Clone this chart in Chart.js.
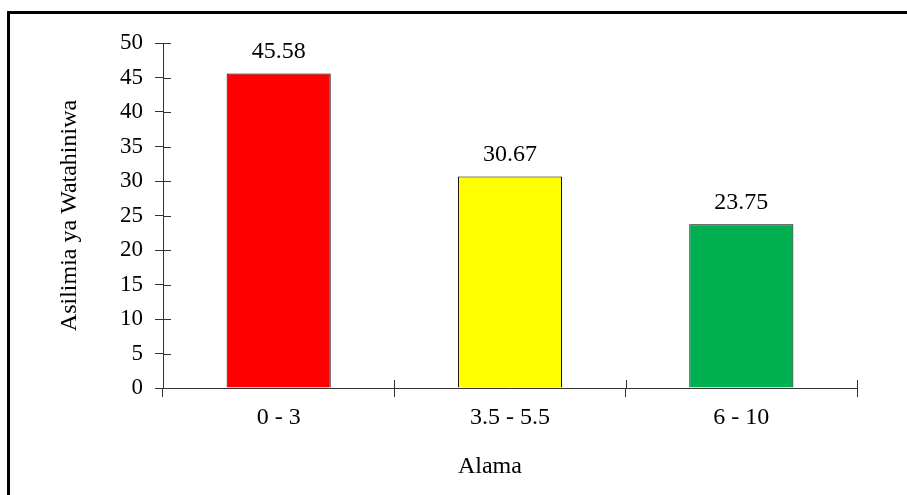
<!DOCTYPE html>
<html>
<head>
<meta charset="utf-8">
<script src="https://cdn.jsdelivr.net/npm/chart.js@4/dist/chart.umd.min.js"></script>
<style>
  html, body { margin: 0; padding: 0; background: #fff; }
  #wrap { position: relative; width: 907px; height: 495px; overflow: hidden; }
  #frame {
    position: absolute; left: 7px; top: 11px; width: 920px; height: 500px;
    border-left: 3px solid #000; border-top: 3px solid #000; pointer-events: none;
  }
  canvas { position: absolute; left: 0; top: 0; }
</style>
</head>
<body>
<div id="wrap">
  <canvas id="chart" width="907" height="495"></canvas>
  <div id="frame"></div>
</div>
<script>
// ====== DATA ======
const categories = ['0 - 3', '3.5 - 5.5', '6 - 10'];
const percentages = [45.58, 30.67, 23.75];
const barColors = ['#FF0000', '#FFFF00', '#00B050'];
const yTitle = 'Asilimia ya Watahiniwa';
const xTitle = 'Alama';

const FONT = 'Liberation Serif, Times New Roman, serif';
const AXIS_COLOR = '#333333';

// ticks crossing the axis lines (Chart.js only draws the outer half)
const innerTicks = {
  id: 'innerTicks',
  afterDraw(chart) {
    const { ctx, scales: { x, y } } = chart;
    ctx.save();
    ctx.strokeStyle = AXIS_COLOR;
    ctx.lineWidth = 1;
    ctx.beginPath();
    y.ticks.forEach((t, i) => {
      const py = Math.round(y.getPixelForTick(i)) + 0.5;
      ctx.moveTo(x.left, py);
      ctx.lineTo(x.left + 8, py);
    });
    for (let i = 1; i <= categories.length; i++) {
      const px = Math.round(x.getPixelForValue(i - 0.5)) + 0.5;
      ctx.moveTo(px, y.bottom);
      ctx.lineTo(px, y.bottom - 8);
    }
    ctx.stroke();

    // x title sits a little left of the plot centre in the original
    ctx.fillStyle = '#000';
    ctx.font = '24px ' + FONT;
    ctx.textAlign = 'center';
    ctx.textBaseline = 'middle';
    ctx.fillText(xTitle, x.left + (x.right - x.left) * 0.471, x.bottom - 28);
    ctx.restore();
  }
};

// value labels above each bar
const valueLabels = {
  id: 'valueLabels',
  afterDatasetsDraw(chart) {
    const { ctx } = chart;
    const meta = chart.getDatasetMeta(0);
    ctx.save();
    ctx.fillStyle = '#000';
    ctx.font = '24px ' + FONT;
    ctx.textAlign = 'center';
    ctx.textBaseline = 'alphabetic';
    meta.data.forEach((bar, i) => {
      ctx.fillText(percentages[i].toFixed(2), bar.x, bar.y - 15);
    });
    ctx.restore();
  }
};

new Chart(document.getElementById('chart'), {
  type: 'bar',
  data: {
    labels: categories,
    datasets: [{
      data: percentages,
      backgroundColor: barColors,
      borderColor: '#000',
      borderWidth: 1,
      barPercentage: 0.45,
      categoryPercentage: 1
    }]
  },
  options: {
    responsive: false,
    animation: false,
    devicePixelRatio: 1,
    layout: { padding: { left: 0, top: 43, right: 50, bottom: 0 } },
    plugins: {
      legend: { display: false },
      tooltip: { enabled: false }
    },
    scales: {
      x: {
        afterFit(scale) { scale.height = 107; },
        grid: {
          display: true,
          drawOnChartArea: false,
          drawTicks: true,
          tickLength: 9,
          color: AXIS_COLOR,
          offset: true
        },
        border: { display: true, color: AXIS_COLOR, width: 1 },
        ticks: {
          color: '#000',
          padding: 6,
          font: { family: FONT, size: 24 }
        },
        title: { display: false, text: xTitle }
      },
      y: {
        min: 0,
        max: 50,
        afterFit(scale) { scale.width = 163; },
        grid: {
          display: true,
          drawOnChartArea: false,
          drawTicks: true,
          tickLength: 8,
          color: AXIS_COLOR
        },
        border: { display: true, color: AXIS_COLOR, width: 1 },
        ticks: {
          stepSize: 5,
          color: '#000',
          padding: 12,
          font: { family: FONT, size: 23 }
        },
        title: {
          display: true,
          text: yTitle,
          color: '#000',
          padding: { top: 55, bottom: 0 },
          font: { family: FONT, size: 24 }
        }
      }
    }
  },
  plugins: [innerTicks, valueLabels]
});
</script>
</body>
</html>
